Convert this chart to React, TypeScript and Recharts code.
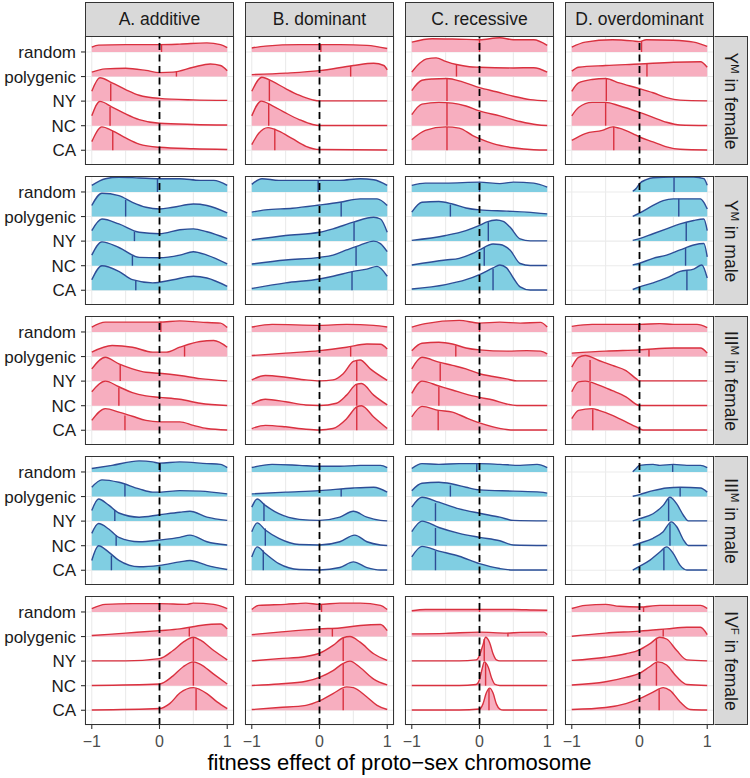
import React from "react";
import { ComposedChart, Area, Line, XAxis, YAxis, CartesianGrid } from "recharts";

type Ridge = { m: [number, number]; p: [number, number][] };

// ---- categories / labels ----
const ridgeNames = ["random", "polygenic", "NY", "NC", "CA"];
const modelNames = ["A. additive", "B. dominant", "C. recessive", "D. overdominant"];
const chromosomes = [
  { chr: "Y", sup: "M", sex: "female" },
  { chr: "Y", sup: "M", sex: "male" },
  { chr: "III", sup: "M", sex: "female" },
  { chr: "III", sup: "M", sex: "male" },
  { chr: "IV", sup: "F", sex: "female" },
];
const xTickValues = [-1, 0, 1];
const xGridValues = [-1, -0.5, 0, 0.5, 1];
const ridgeBaselines = [4, 3, 2, 1, 0];
const axisTitle = "fitness effect of proto\u2212sex chromosome";

// ---- density ridges: p = [x, height], m = [median x, height at median] ----
// Row 1: Y^M in female
const yFemAdd: Ridge[] = [
  { m: [0.03, 0.3], p: [[-1, 0.2], [-0.9, 0.28], [-0.5, 0.3], [0, 0.3], [0.3, 0.32], [0.7, 0.37], [0.9, 0.3], [1, 0.18]] },
  { m: [0.25, 0.22], p: [[-1, 0.18], [-0.8, 0.31], [-0.5, 0.34], [-0.2, 0.25], [0, 0.16], [0.2, 0.18], [0.5, 0.38], [0.75, 0.51], [0.9, 0.45], [1, 0.24]] },
  { m: [-0.72, 0.72], p: [[-1, 0.4], [-0.88, 0.95], [-0.7, 0.74], [-0.5, 0.47], [-0.3, 0.24], [0, 0.11], [0.5, 0.05], [1, 0.03]] },
  { m: [-0.73, 0.76], p: [[-1, 0.4], [-0.88, 0.99], [-0.7, 0.76], [-0.5, 0.48], [-0.3, 0.25], [0, 0.1], [0.5, 0.05], [1, 0.03]] },
  { m: [-0.69, 0.78], p: [[-1, 0.35], [-0.85, 0.95], [-0.7, 0.8], [-0.5, 0.5], [-0.3, 0.25], [0, 0.12], [0.5, 0.06], [1, 0.03]] },
];
const yFemDom: Ridge[] = [
  { m: [0.02, 0.3], p: [[-1, 0.16], [-0.8, 0.24], [-0.3, 0.3], [0, 0.3], [0.3, 0.3], [0.7, 0.27], [1, 0.14]] },
  { m: [0.46, 0.44], p: [[-1, 0.08], [-0.5, 0.14], [0, 0.24], [0.5, 0.45], [0.8, 0.54], [0.95, 0.45], [1, 0.27]] },
  { m: [-0.74, 0.85], p: [[-1, 0.4], [-0.85, 0.97], [-0.7, 0.81], [-0.5, 0.51], [-0.3, 0.24], [-0.1, 0.05], [0, 0.01], [1, 0.01]] },
  { m: [-0.75, 0.88], p: [[-1, 0.4], [-0.86, 1.0], [-0.7, 0.82], [-0.5, 0.52], [-0.3, 0.25], [-0.1, 0.05], [0, 0.01], [1, 0.01]] },
  { m: [-0.66, 0.88], p: [[-1, 0.23], [-0.9, 0.68], [-0.76, 0.92], [-0.6, 0.78], [-0.4, 0.47], [-0.2, 0.16], [0, 0.03], [1, 0.01]] },
];
const yFemRec: Ridge[] = [
  { m: [0, 0.5], p: [[-1, 0.4], [-0.7, 0.54], [-0.3, 0.52], [0, 0.5], [0.3, 0.58], [0.5, 0.5], [0.8, 0.5], [1, 0.27]] },
  { m: [-0.34, 0.49], p: [[-1, 0.18], [-0.88, 0.55], [-0.78, 0.72], [-0.64, 0.76], [-0.5, 0.62], [-0.34, 0.49], [-0.15, 0.4], [0, 0.38], [0.5, 0.35], [0.8, 0.36], [1, 0.18]] },
  { m: [-0.48, 0.92], p: [[-1, 0.43], [-0.85, 0.85], [-0.7, 0.9], [-0.48, 0.92], [-0.25, 0.78], [0, 0.55], [0.25, 0.38], [0.5, 0.2], [0.75, 0.06], [1, 0.01]] },
  { m: [-0.48, 0.93], p: [[-1, 0.45], [-0.85, 0.88], [-0.6, 0.95], [-0.4, 0.92], [-0.2, 0.8], [0, 0.6], [0.3, 0.4], [0.6, 0.17], [0.85, 0.04], [1, 0.01]] },
  { m: [-0.48, 0.95], p: [[-1, 0.43], [-0.8, 0.81], [-0.5, 0.95], [-0.3, 0.9], [-0.1, 0.6], [0, 0.47], [0.2, 0.27], [0.5, 0.1], [0.8, 0.02], [1, 0.01]] },
];
const yFemOver: Ridge[] = [
  { m: [0.03, 0.45], p: [[-1, 0.2], [-0.8, 0.4], [-0.4, 0.5], [-0.1, 0.45], [0, 0.42], [0.1, 0.5], [0.5, 0.48], [0.8, 0.4], [1, 0.23]] },
  { m: [0.11, 0.52], p: [[-1, 0.22], [-0.9, 0.38], [-0.5, 0.45], [0, 0.51], [0.5, 0.58], [0.9, 0.6], [1, 0.38]] },
  { m: [-0.49, 0.92], p: [[-1, 0.4], [-0.9, 0.74], [-0.7, 0.88], [-0.5, 0.92], [-0.3, 0.74], [0, 0.51], [0.2, 0.34], [0.4, 0.14], [0.6, 0.04], [1, 0.01]] },
  { m: [-0.5, 0.95], p: [[-1, 0.4], [-0.9, 0.74], [-0.7, 0.95], [-0.5, 0.95], [-0.3, 0.81], [0, 0.54], [0.2, 0.34], [0.4, 0.14], [0.6, 0.03], [1, 0.01]] },
  { m: [-0.38, 0.97], p: [[-1, 0.4], [-0.8, 0.68], [-0.55, 0.81], [-0.4, 0.95], [-0.3, 0.9], [-0.1, 0.68], [0, 0.54], [0.2, 0.34], [0.4, 0.14], [0.6, 0.04], [1, 0.01]] },
];
// Row 2: Y^M in male
const yMalAdd: Ridge[] = [
  { m: [-0.03, 0.54], p: [[-1, 0.27], [-0.8, 0.54], [-0.6, 0.6], [-0.3, 0.57], [0, 0.54], [0.3, 0.54], [0.6, 0.47], [0.8, 0.47], [1, 0.27]] },
  { m: [-0.5, 0.68], p: [[-1, 0.45], [-0.85, 0.95], [-0.6, 0.85], [-0.4, 0.58], [-0.2, 0.38], [0, 0.31], [0.2, 0.38], [0.5, 0.51], [0.7, 0.45], [1, 0.15]] },
  { m: [-0.37, 0.38], p: [[-1, 0.43], [-0.85, 0.9], [-0.6, 0.7], [-0.3, 0.36], [0, 0.3], [0.3, 0.46], [0.5, 0.5], [0.7, 0.38], [1, 0.1]] },
  { m: [-0.4, 0.4], p: [[-1, 0.43], [-0.85, 0.97], [-0.6, 0.74], [-0.3, 0.34], [0, 0.32], [0.3, 0.43], [0.5, 0.57], [0.7, 0.43], [1, 0.07]] },
  { m: [-0.35, 0.38], p: [[-1, 0.43], [-0.85, 1.0], [-0.6, 0.77], [-0.4, 0.43], [-0.1, 0.3], [0.2, 0.43], [0.5, 0.57], [0.7, 0.5], [1, 0.16]] },
];
const yMalDom: Ridge[] = [
  { m: [-0.02, 0.47], p: [[-1, 0.31], [-0.85, 0.54], [-0.6, 0.47], [-0.2, 0.47], [0, 0.47], [0.3, 0.47], [0.6, 0.54], [0.8, 0.5], [1, 0.27]] },
  { m: [0.32, 0.58], p: [[-1, 0.18], [-0.8, 0.27], [-0.4, 0.34], [0, 0.47], [0.3, 0.58], [0.6, 0.72], [0.85, 0.72], [1, 0.45]] },
  { m: [0.51, 0.77], p: [[-1, 0.05], [-0.5, 0.23], [0, 0.36], [0.2, 0.5], [0.5, 0.77], [0.8, 0.97], [0.9, 0.9], [1, 0.36]] },
  { m: [0.54, 0.8], p: [[-1, 0.07], [-0.5, 0.23], [0, 0.34], [0.2, 0.43], [0.4, 0.64], [0.6, 0.84], [0.8, 1.0], [0.9, 0.9], [1, 0.57]] },
  { m: [0.48, 0.76], p: [[-1, 0.07], [-0.5, 0.3], [0, 0.46], [0.2, 0.57], [0.5, 0.77], [0.7, 0.86], [0.85, 0.97], [1, 0.57]] },
];
const yMalRec: Ridge[] = [
  { m: [0, 0.4], p: [[-1, 0.27], [-0.8, 0.36], [-0.5, 0.36], [0, 0.4], [0.3, 0.34], [0.5, 0.4], [0.8, 0.36], [1, 0.2]] },
  { m: [-0.43, 0.49], p: [[-1, 0.18], [-0.85, 0.58], [-0.6, 0.61], [-0.4, 0.51], [-0.2, 0.35], [0, 0.27], [0.4, 0.22], [0.7, 0.18], [1, 0.11]] },
  { m: [0.13, 0.77], p: [[-1, 0.03], [-0.5, 0.23], [-0.2, 0.43], [0, 0.64], [0.1, 0.77], [0.25, 0.86], [0.35, 0.8], [0.45, 0.57], [0.6, 0.09], [0.75, 0.01], [1, 0.01]] },
  { m: [0.07, 0.74], p: [[-1, 0.03], [-0.5, 0.23], [-0.3, 0.3], [-0.1, 0.5], [0, 0.64], [0.2, 0.88], [0.3, 0.86], [0.45, 0.64], [0.6, 0.09], [0.75, 0.01], [1, 0.01]] },
  { m: [0.2, 0.88], p: [[-1, 0.05], [-0.5, 0.23], [-0.2, 0.43], [0, 0.64], [0.2, 0.91], [0.3, 1.03], [0.4, 0.91], [0.5, 0.5], [0.6, 0.14], [0.75, 0.01], [1, 0.01]] },
];
const yMalOver: Ridge[] = [
  { m: [0.51, 0.61], p: [[-0.1, 0.03], [-0.05, 0.14], [0, 0.34], [0.1, 0.5], [0.2, 0.58], [0.5, 0.61], [0.8, 0.61], [0.95, 0.54], [1, 0.27]] },
  { m: [0.58, 0.72], p: [[-0.1, 0.01], [0, 0.14], [0.2, 0.45], [0.35, 0.65], [0.5, 0.72], [0.9, 0.72], [0.95, 0.58], [1, 0.31]] },
  { m: [0.69, 0.78], p: [[-0.1, 0.03], [0, 0.1], [0.2, 0.3], [0.4, 0.5], [0.6, 0.7], [0.8, 0.84], [0.95, 0.9], [1, 0.43]] },
  { m: [0.68, 0.72], p: [[-0.1, 0.03], [0, 0.1], [0.2, 0.3], [0.4, 0.43], [0.6, 0.64], [0.8, 0.84], [0.95, 0.9], [1, 0.36]] },
  { m: [0.7, 0.8], p: [[-0.1, 0.03], [0, 0.14], [0.2, 0.3], [0.4, 0.5], [0.6, 0.77], [0.8, 0.86], [0.92, 1.03], [1, 0.5]] },
];
// Row 3: III^M in female
const iiiFemAdd: Ridge[] = [
  { m: [0.02, 0.43], p: [[-1, 0.2], [-0.8, 0.4], [-0.5, 0.4], [0, 0.4], [0.3, 0.45], [0.6, 0.4], [0.9, 0.36], [1, 0.18]] },
  { m: [0.37, 0.42], p: [[-1, 0.18], [-0.7, 0.45], [-0.4, 0.38], [-0.1, 0.18], [0.1, 0.18], [0.3, 0.38], [0.6, 0.61], [0.8, 0.65], [1, 0.38]] },
  { m: [-0.58, 0.66], p: [[-1, 0.5], [-0.8, 0.97], [-0.6, 0.7], [-0.4, 0.5], [-0.2, 0.36], [0, 0.32], [0.3, 0.23], [0.6, 0.1], [1, 0.01]] },
  { m: [-0.6, 0.74], p: [[-1, 0.57], [-0.8, 1.0], [-0.6, 0.77], [-0.4, 0.53], [-0.2, 0.4], [0, 0.34], [0.3, 0.26], [0.6, 0.1], [1, 0.01]] },
  { m: [-0.51, 0.6], p: [[-1, 0.4], [-0.8, 0.88], [-0.6, 0.74], [-0.4, 0.57], [-0.2, 0.4], [0, 0.34], [0.3, 0.34], [0.5, 0.2], [0.7, 0.07], [1, 0.01]] },
];
const iiiFemDom: Ridge[] = [
  { m: [-0.01, 0.27], p: [[-1, 0.2], [-0.7, 0.31], [0, 0.27], [0.4, 0.31], [0.8, 0.27], [1, 0.2]] },
  { m: [0.46, 0.4], p: [[-1, 0.04], [-0.5, 0.14], [0, 0.24], [0.4, 0.38], [0.7, 0.51], [0.9, 0.5], [1, 0.31]] },
  { m: [0.55, 0.83], p: [[-1, 0.05], [-0.8, 0.23], [-0.5, 0.16], [-0.2, 0.05], [0, 0.01], [0.2, 0.05], [0.35, 0.3], [0.5, 0.8], [0.6, 0.86], [0.75, 0.5], [1, 0.03]] },
  { m: [0.55, 0.88], p: [[-1, 0.07], [-0.8, 0.26], [-0.5, 0.16], [-0.2, 0.03], [0, 0.01], [0.25, 0.1], [0.4, 0.43], [0.55, 0.88], [0.62, 0.9], [0.8, 0.43], [1, 0.03]] },
  { m: [0.55, 0.95], p: [[-1, 0.07], [-0.8, 0.2], [-0.5, 0.14], [-0.2, 0.04], [0, 0.01], [0.2, 0.07], [0.4, 0.47], [0.55, 0.95], [0.62, 1.0], [0.8, 0.54], [1, 0.07]] },
];
const iiiFemRec: Ridge[] = [
  { m: [0, 0.38], p: [[-1, 0.2], [-0.8, 0.34], [-0.3, 0.47], [0, 0.36], [0.3, 0.4], [0.6, 0.36], [0.9, 0.39], [1, 0.2]] },
  { m: [-0.35, 0.45], p: [[-1, 0.24], [-0.85, 0.54], [-0.6, 0.58], [-0.4, 0.51], [-0.2, 0.35], [0, 0.27], [0.4, 0.22], [0.7, 0.24], [0.9, 0.22], [1, 0.11]] },
  { m: [-0.58, 0.73], p: [[-1, 0.5], [-0.85, 0.97], [-0.6, 0.77], [-0.4, 0.64], [-0.2, 0.5], [0, 0.3], [0.2, 0.19], [0.4, 0.09], [0.55, 0.01], [1, 0.01]] },
  { m: [-0.6, 0.76], p: [[-1, 0.5], [-0.85, 1.0], [-0.6, 0.8], [-0.4, 0.64], [-0.2, 0.47], [0, 0.34], [0.2, 0.23], [0.4, 0.07], [0.55, 0.01], [1, 0.01]] },
  { m: [-0.61, 0.81], p: [[-1, 0.54], [-0.85, 0.97], [-0.6, 0.81], [-0.4, 0.74], [-0.2, 0.51], [0, 0.3], [0.2, 0.14], [0.4, 0.03], [0.5, 0.01], [1, 0.01]] },
];
const iiiFemOver: Ridge[] = [
  { m: [-0.01, 0.31], p: [[-1, 0.23], [-0.7, 0.31], [-0.4, 0.31], [0, 0.31], [0.3, 0.34], [0.5, 0.31], [0.85, 0.31], [1, 0.18]] },
  { m: [0.14, 0.3], p: [[-1, 0.14], [-0.5, 0.22], [0, 0.27], [0.5, 0.35], [0.9, 0.35], [1, 0.14]] },
  { m: [-0.73, 0.86], p: [[-1, 0.57], [-0.9, 0.97], [-0.8, 1.04], [-0.6, 0.84], [-0.4, 0.64], [-0.2, 0.43], [-0.05, 0.1], [0, 0.01], [1, 0.01]] },
  { m: [-0.73, 0.93], p: [[-1, 0.57], [-0.9, 0.97], [-0.8, 1.0], [-0.6, 0.84], [-0.4, 0.61], [-0.2, 0.36], [0, 0.01], [1, 0.01]] },
  { m: [-0.69, 0.86], p: [[-1, 0.47], [-0.9, 0.81], [-0.7, 0.88], [-0.6, 0.81], [-0.4, 0.61], [-0.2, 0.34], [0, 0.07], [0.05, 0.01], [1, 0.01]] },
];
// Row 4: III^M in male
const iiiMalAdd: Ridge[] = [
  { m: [0.01, 0.36], p: [[-1, 0.14], [-0.7, 0.27], [-0.3, 0.45], [-0.1, 0.41], [0, 0.36], [0.3, 0.41], [0.7, 0.34], [0.9, 0.31], [1, 0.18]] },
  { m: [-0.51, 0.5], p: [[-1, 0.38], [-0.85, 0.68], [-0.6, 0.58], [-0.3, 0.31], [-0.1, 0.18], [0, 0.18], [0.3, 0.24], [0.6, 0.22], [1, 0.11]] },
  { m: [-0.66, 0.45], p: [[-1, 0.43], [-0.9, 0.9], [-0.75, 0.65], [-0.6, 0.33], [-0.3, 0.16], [0, 0.26], [0.3, 0.36], [0.45, 0.4], [0.7, 0.16], [1, 0.03]] },
  { m: [-0.64, 0.42], p: [[-1, 0.5], [-0.9, 0.9], [-0.75, 0.68], [-0.6, 0.34], [-0.3, 0.16], [0, 0.23], [0.3, 0.34], [0.45, 0.43], [0.7, 0.16], [1, 0.03]] },
  { m: [-0.71, 0.6], p: [[-1, 0.4], [-0.9, 1.0], [-0.75, 0.74], [-0.6, 0.4], [-0.3, 0.14], [0, 0.2], [0.3, 0.34], [0.45, 0.4], [0.7, 0.2], [1, 0.03]] },
];
const iiiMalDom: Ridge[] = [
  { m: [0, 0.23], p: [[-1, 0.18], [-0.7, 0.31], [-0.3, 0.27], [0, 0.23], [0.3, 0.23], [0.6, 0.27], [0.9, 0.27], [1, 0.18]] },
  { m: [0.32, 0.31], p: [[-1, 0.11], [-0.5, 0.18], [0, 0.24], [0.5, 0.35], [0.8, 0.38], [1, 0.18]] },
  { m: [-0.82, 0.72], p: [[-1, 0.57], [-0.92, 0.9], [-0.8, 0.64], [-0.6, 0.3], [-0.3, 0.07], [0, 0.03], [0.3, 0.16], [0.5, 0.4], [0.7, 0.16], [0.9, 0.03], [1, 0.01]] },
  { m: [-0.8, 0.7], p: [[-1, 0.57], [-0.92, 0.93], [-0.8, 0.64], [-0.6, 0.3], [-0.3, 0.05], [0, 0.03], [0.3, 0.16], [0.52, 0.43], [0.7, 0.16], [0.9, 0.03], [1, 0.01]] },
  { m: [-0.83, 0.8], p: [[-1, 0.54], [-0.92, 0.95], [-0.8, 0.68], [-0.6, 0.27], [-0.3, 0.03], [0, 0.01], [0.3, 0.11], [0.5, 0.34], [0.7, 0.11], [0.9, 0.01], [1, 0.01]] },
];
const iiiMalRec: Ridge[] = [
  { m: [-0.04, 0.34], p: [[-1, 0.14], [-0.85, 0.34], [-0.6, 0.31], [-0.3, 0.34], [0, 0.34], [0.3, 0.31], [0.6, 0.27], [0.85, 0.31], [1, 0.18]] },
  { m: [-0.43, 0.45], p: [[-1, 0.24], [-0.85, 0.54], [-0.6, 0.58], [-0.4, 0.51], [-0.2, 0.38], [0, 0.27], [0.5, 0.22], [0.9, 0.18], [1, 0.14]] },
  { m: [-0.65, 0.73], p: [[-1, 0.57], [-0.85, 0.97], [-0.6, 0.77], [-0.3, 0.5], [0, 0.32], [0.3, 0.16], [0.5, 0.03], [1, 0.01]] },
  { m: [-0.65, 0.72], p: [[-1, 0.57], [-0.85, 1.0], [-0.6, 0.74], [-0.3, 0.5], [0, 0.34], [0.3, 0.2], [0.5, 0.03], [1, 0.01]] },
  { m: [-0.65, 0.78], p: [[-1, 0.54], [-0.85, 0.97], [-0.6, 0.78], [-0.3, 0.57], [0, 0.27], [0.3, 0.07], [0.5, 0.01], [1, 0.01]] },
];
const iiiMalOver: Ridge[] = [
  { m: [0.49, 0.31], p: [[-0.1, 0.01], [-0.05, 0.14], [0, 0.27], [0.2, 0.31], [0.3, 0.27], [0.5, 0.31], [0.7, 0.27], [0.9, 0.27], [1, 0.18]] },
  { m: [0.6, 0.38], p: [[-0.1, 0.01], [0, 0.08], [0.2, 0.24], [0.4, 0.35], [0.6, 0.38], [0.9, 0.35], [1, 0.18]] },
  { m: [0.43, 0.9], p: [[-0.1, 0.01], [0, 0.1], [0.2, 0.3], [0.35, 0.64], [0.45, 0.97], [0.55, 0.7], [0.65, 0.23], [0.72, 0.01], [1, 0.01]] },
  { m: [0.45, 0.9], p: [[-0.1, 0.01], [0, 0.1], [0.2, 0.3], [0.35, 0.57], [0.47, 0.97], [0.55, 0.77], [0.65, 0.23], [0.72, 0.01], [1, 0.01]] },
  { m: [0.36, 0.88], p: [[-0.1, 0.01], [0, 0.16], [0.15, 0.4], [0.3, 0.74], [0.4, 0.95], [0.5, 0.68], [0.6, 0.2], [0.7, 0.01], [1, 0.01]] },
];
// Row 5: IV^F in female
const ivFemAdd: Ridge[] = [
  { m: [0, 0.34], p: [[-1, 0.14], [-0.8, 0.31], [-0.4, 0.34], [0, 0.34], [0.4, 0.31], [0.5, 0.36], [0.8, 0.31], [1, 0.14]] },
  { m: [0.44, 0.38], p: [[-1, 0.04], [-0.5, 0.14], [0, 0.24], [0.3, 0.31], [0.6, 0.45], [0.9, 0.51], [1, 0.31]] },
  { m: [0.5, 0.97], p: [[-1, 0.01], [-0.5, 0.01], [0, 0.1], [0.2, 0.43], [0.35, 0.77], [0.5, 0.97], [0.6, 0.86], [0.8, 0.43], [1, 0.05]] },
  { m: [0.5, 0.97], p: [[-1, 0.01], [0, 0.07], [0.2, 0.4], [0.35, 0.77], [0.5, 0.97], [0.6, 0.88], [0.8, 0.47], [1, 0.07]] },
  { m: [0.54, 0.9], p: [[-1, 0.01], [0, 0.07], [0.15, 0.27], [0.3, 0.7], [0.5, 0.92], [0.7, 0.68], [0.85, 0.34], [1, 0.07]] },
];
const ivFemDom: Ridge[] = [
  { m: [0.03, 0.31], p: [[-1, 0.1], [-0.9, 0.27], [-0.5, 0.31], [-0.2, 0.36], [0, 0.31], [0.3, 0.36], [0.6, 0.36], [0.9, 0.27], [1, 0.1]] },
  { m: [0.19, 0.31], p: [[-1, 0.08], [-0.6, 0.18], [0, 0.31], [0.3, 0.35], [0.6, 0.45], [0.9, 0.49], [1, 0.24]] },
  { m: [0.35, 0.95], p: [[-1, 0.01], [-0.6, 0.1], [-0.2, 0.19], [0, 0.32], [0.2, 0.64], [0.35, 0.95], [0.45, 1.0], [0.6, 0.77], [0.8, 0.3], [1, 0.03]] },
  { m: [0.35, 0.91], p: [[-1, 0.01], [-0.6, 0.07], [-0.2, 0.18], [0, 0.34], [0.2, 0.61], [0.35, 0.91], [0.45, 1.0], [0.6, 0.74], [0.8, 0.27], [1, 0.03]] },
  { m: [0.35, 0.88], p: [[-1, 0.03], [-0.6, 0.11], [-0.2, 0.2], [0, 0.38], [0.2, 0.68], [0.4, 0.95], [0.5, 0.92], [0.7, 0.54], [0.85, 0.2], [1, 0.03]] },
];
const ivFemRec: Ridge[] = [
  { m: [0, 0.1], p: [[-1, 0.05], [-0.8, 0.1], [-0.5, 0.1], [0, 0.1], [0.5, 0.1], [0.8, 0.08], [1, 0.07]] },
  { m: [0.42, 0.13], p: [[-1, 0.11], [-0.5, 0.13], [0, 0.18], [0.4, 0.14], [0.6, 0.17], [0.95, 0.18], [1, 0.08]] },
  { m: [0.07, 0.9], p: [[-1, 0.01], [-0.3, 0.01], [-0.05, 0.05], [0, 0.23], [0.05, 0.65], [0.09, 0.97], [0.15, 0.75], [0.2, 0.3], [0.25, 0.05], [0.3, 0.01], [1, 0.01]] },
  { m: [0.09, 0.92], p: [[-1, 0.01], [-0.3, 0.01], [-0.05, 0.05], [0, 0.25], [0.04, 0.7], [0.07, 0.97], [0.13, 0.75], [0.18, 0.3], [0.23, 0.05], [0.3, 0.01], [1, 0.01]] },
  { m: [0.14, 0.88], p: [[-1, 0.01], [-0.3, 0.01], [0, 0.05], [0.05, 0.25], [0.1, 0.7], [0.15, 0.9], [0.2, 0.7], [0.25, 0.25], [0.3, 0.05], [0.35, 0.01], [1, 0.01]] },
];
const ivFemOver: Ridge[] = [
  { m: [0.06, 0.2], p: [[-1, 0.14], [-0.8, 0.27], [-0.5, 0.31], [-0.3, 0.23], [0, 0.2], [0.3, 0.27], [0.6, 0.27], [0.9, 0.27], [1, 0.14]] },
  { m: [0.35, 0.31], p: [[-1, 0.01], [-0.5, 0.14], [0, 0.22], [0.4, 0.31], [0.7, 0.38], [0.9, 0.38], [1, 0.08]] },
  { m: [0.25, 0.95], p: [[-1, 0.03], [-0.5, 0.16], [-0.2, 0.3], [0, 0.46], [0.15, 0.7], [0.3, 0.97], [0.4, 0.9], [0.55, 0.43], [0.7, 0.05], [1, 0.01]] },
  { m: [0.25, 0.97], p: [[-1, 0.03], [-0.5, 0.16], [-0.2, 0.34], [0, 0.5], [0.15, 0.77], [0.27, 0.97], [0.4, 0.84], [0.55, 0.36], [0.7, 0.05], [1, 0.01]] },
  { m: [0.29, 0.86], p: [[-1, 0.03], [-0.5, 0.11], [-0.2, 0.27], [0, 0.47], [0.2, 0.74], [0.35, 0.92], [0.45, 0.81], [0.6, 0.34], [0.75, 0.03], [1, 0.01]] },
];

const panels: Ridge[][][] = [
  [yFemAdd, yFemDom, yFemRec, yFemOver],
  [yMalAdd, yMalDom, yMalRec, yMalOver],
  [iiiFemAdd, iiiFemDom, iiiFemRec, iiiFemOver],
  [iiiMalAdd, iiiMalDom, iiiMalRec, iiiMalOver],
  [ivFemAdd, ivFemDom, ivFemRec, ivFemOver],
];

// ---- layout / style ----
const FONT = '"Liberation Sans", Arial, Helvetica, sans-serif';
const PANEL_X0 = 85;
const COL_STEP = 160;
const PANEL_Y0 = 36;
const ROW_STEP = 140;
const PW = 149;
const PH = 129;
const Y_AXIS_W = 85;
const X_AXIS_H = 30;
const SIDE_PAD = 12;
const X_DOMAIN: [number, number] = [-1.1, 1.1];
const Y_DOMAIN: [number, number] = [-0.6, 4.65];
const COLORS = {
  female: { fill: "#F7AEBF", stroke: "#D9313F" },
  male: { fill: "#80CEE2", stroke: "#2D4D96" },
};

const fmtX = (v: number) => (v < 0 ? "\u2212" + Math.abs(v) : String(v));

function Panel({ ridges, row, col }: { ridges: Ridge[]; row: number; col: number }) {
  const sex = chromosomes[row].sex as "female" | "male";
  const { fill, stroke } = COLORS[sex];
  const showY = col === 0;
  const showX = row === panels.length - 1;
  const padLeft = showY ? Y_AXIS_W : SIDE_PAD;
  const left = PANEL_X0 + col * COL_STEP - padLeft;
  const top = PANEL_Y0 + row * ROW_STEP;
  const zeroLine = [{ x: 0, y: Y_DOMAIN[0] }, { x: 0, y: Y_DOMAIN[1] }];
  return (
    <div style={{ position: "absolute", left, top }}>
      <ComposedChart
        width={PW + padLeft + SIDE_PAD}
        height={PH + (showX ? X_AXIS_H : 0)}
        margin={{ top: 0, right: SIDE_PAD, bottom: 0, left: showY ? 0 : SIDE_PAD }}
      >
        <XAxis xAxisId="grid" type="number" dataKey="x" domain={X_DOMAIN} ticks={xGridValues} allowDataOverflow hide />
        <XAxis
          type="number"
          dataKey="x"
          domain={X_DOMAIN}
          ticks={xTickValues}
          interval={0}
          allowDataOverflow
          hide={!showX}
          height={X_AXIS_H}
          tickFormatter={fmtX}
          tickSize={4}
          tickMargin={7}
          axisLine={false}
          tickLine={{ stroke: "#333333", strokeWidth: 1.1 }}
          tick={{ fill: "#4D4D4D", fontSize: 16 }}
        />
        <YAxis
          type="number"
          domain={Y_DOMAIN}
          ticks={ridgeBaselines}
          interval={0}
          allowDataOverflow
          hide={!showY}
          width={Y_AXIS_W}
          tickFormatter={(v: number) => ridgeNames[ridgeBaselines.indexOf(v)]}
          tickSize={4}
          tickMargin={5}
          axisLine={false}
          tickLine={{ stroke: "#333333", strokeWidth: 1.1 }}
          tick={{ fill: "#1A1A1A", fontSize: 17 }}
        />
        <CartesianGrid xAxisId="grid" stroke="#EBEBEB" strokeWidth={1.1} />
        {ridges.flatMap((r, i) => {
          const base = ridgeBaselines[i];
          const data = r.p.map(([x, h]) => ({ x, y: base + h }));
          const med = [{ x: r.m[0], y: base }, { x: r.m[0], y: base + r.m[1] }];
          return [
            <Area
              key={"a" + i}
              data={data}
              dataKey="y"
              type="monotone"
              baseValue={base}
              fill={fill}
              fillOpacity={1}
              stroke={stroke}
              strokeWidth={1.4}
              isAnimationActive={false}
              dot={false}
              activeDot={false}
            />,
            <Line
              key={"m" + i}
              data={med}
              dataKey="y"
              type="linear"
              stroke={stroke}
              strokeWidth={1.4}
              dot={false}
              activeDot={false}
              isAnimationActive={false}
            />,
          ];
        })}
        <Line
          data={zeroLine}
          dataKey="y"
          type="linear"
          stroke="#000000"
          strokeWidth={1.8}
          strokeDasharray="7 4.5"
          dot={false}
          activeDot={false}
          isAnimationActive={false}
        />
      </ComposedChart>
      <div
        style={{
          position: "absolute",
          left: padLeft,
          top: 0,
          width: PW,
          height: PH,
          boxSizing: "border-box",
          border: "1.3px solid #333333",
          pointerEvents: "none",
        }}
      />
    </div>
  );
}

export default function App() {
  return (
    <div
      style={{
        position: "absolute",
        left: 0,
        top: 0,
        width: 750,
        height: 778,
        background: "#FFFFFF",
        fontFamily: FONT,
        overflow: "hidden",
      }}
    >
      {modelNames.map((name, c) => (
        <div
          key={name}
          style={{
            position: "absolute",
            left: PANEL_X0 + c * COL_STEP,
            top: 2,
            width: PW,
            height: PANEL_Y0 - 2 + 1,
            boxSizing: "border-box",
            background: "#D9D9D9",
            border: "1.3px solid #333333",
            color: "#1A1A1A",
            fontSize: 17.5,
            display: "flex",
            alignItems: "center",
            justifyContent: "center",
          }}
        >
          {name}
        </div>
      ))}
      {chromosomes.map((ch, r) => (
        <div
          key={r}
          style={{
            position: "absolute",
            left: PANEL_X0 + 3 * COL_STEP + PW - 1,
            top: PANEL_Y0 + r * ROW_STEP,
            width: 35,
            height: PH,
            boxSizing: "border-box",
            background: "#D9D9D9",
            border: "1.3px solid #333333",
            color: "#1A1A1A",
          }}
        >
          <span
            style={{
              position: "absolute",
              left: "50%",
              top: "50%",
              transform: "translate(-50%, -50%) rotate(90deg)",
              whiteSpace: "nowrap",
              fontSize: 17.5,
              lineHeight: "20px",
            }}
          >
            {ch.chr}
            <sup style={{ fontSize: 11.5, lineHeight: 0, verticalAlign: "0.55em" }}>{ch.sup}</sup>
            {" in " + ch.sex}
          </span>
        </div>
      ))}
      {panels.map((row, r) => row.map((ridges, c) => <Panel key={r + "-" + c} ridges={ridges} row={r} col={c} />))}
      <div
        style={{
          position: "absolute",
          left: PANEL_X0,
          top: 750,
          width: 3 * COL_STEP + PW,
          textAlign: "center",
          fontSize: 22,
          color: "#000000",
        }}
      >
        {axisTitle}
      </div>
    </div>
  );
}
